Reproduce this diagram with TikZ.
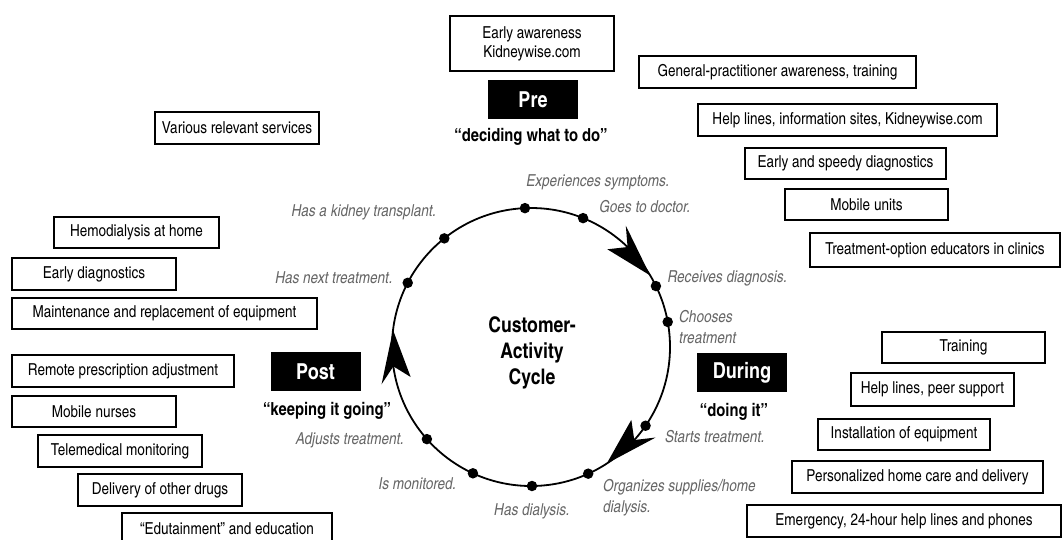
\documentclass[tikz,border=0pt]{standalone}
\usepackage{fontspec}
\setmainfont{texgyreheroscn}[Extension=.otf, UprightFont=*-regular, BoldFont=*-bold, ItalicFont=*-italic, BoldItalicFont=*-bolditalic]
\begin{document}
\begin{tikzpicture}[x=1pt,y=1pt,
  bx/.style 2 args={draw, line width=1.2pt, inner sep=0pt, align=center,
    minimum width=#1, minimum height=#2, font=\fontsize{16.5}{19}\selectfont},
  phase/.style={fill=black, text=white, inner sep=0pt, minimum width=90, minimum height=39,
    font=\bfseries\fontsize{22}{26}\selectfont},
  quote/.style={inner sep=0pt, font=\bfseries\fontsize{18}{21}\selectfont},
  lab/.style={inner sep=0pt, text=black!60, font=\itshape\fontsize{16.5}{21}\selectfont},
  dot/.style={circle, fill=black, inner sep=0pt, minimum size=10.5}]
\useasboundingbox (0,0) rectangle (1062,-539);

% Pre
\node[bx={164}{55}] (early) at (532,-43.5) {Early awareness\\Kidneywise.com};
\node[phase] (pre) at (533,-99.5) {Pre};
\node[quote] (preq) at (531,-137) {“deciding what to do”};
\node[bx={277}{32}] (gp) at (777.5,-72) {General-practitioner awareness, training};
\node[bx={299}{32}] (help) at (847.5,-120) {Help lines, information sites, Kidneywise.com};
\node[bx={201}{31}] (speedy) at (845.5,-163.5) {Early and speedy diagnostics};
\node[bx={163}{31}] (mobile) at (866.5,-204.5) {Mobile units};
\node[bx={250}{34}] (educ) at (935,-250) {Treatment-option educators in clinics};

% Post
\node[bx={164}{32}] (various) at (237,-128) {Various relevant services};
\node[bx={165}{31}] (hemo) at (136.5,-232.5) {Hemodialysis at home};
\node[bx={164}{32}] (ediag) at (94,-274) {Early diagnostics};
\node[bx={305}{31}] (maint) at (164.5,-313.5) {Maintenance and replacement of equipment};
\node[bx={222}{32}] (remote) at (123,-371) {Remote prescription adjustment};
\node[bx={164}{31}] (nurses) at (94,-411.5) {Mobile nurses};
\node[bx={164}{32}] (tele) at (120,-451) {Telemedical monitoring};
\node[bx={164}{32}] (drugs) at (160,-490) {Delivery of other drugs};
\node[bx={210}{32}] (edu) at (227,-529) {“Edutainment” and education};
\node[phase] (post) at (315.5,-371.5) {Post};
\node[quote] (postq) at (327,-411) {“keeping it going”};

% During
\node[bx={163}{31}] (training) at (963.5,-347.5) {Training};
\node[bx={163}{33}] (peer) at (932.5,-389.5) {Help lines, peer support};
\node[bx={172}{31}] (install) at (904,-434.5) {Installation of equipment};
\node[bx={251}{32}] (personal) at (917.5,-477) {Personalized home care and delivery};
\node[bx={314}{32}] (emerg) at (904,-521) {Emergency, 24-hour help lines and phones};
\node[phase] (during) at (742,-372.5) {During};
\node[quote] (duringq) at (734,-412) {“doing it”};

% Cycle
\node[align=center, inner sep=0pt, font=\bfseries\fontsize{21.5}{26}\selectfont] (title) at (532,-353) {Customer-\\Activity\\Cycle};
\begin{scope}[shift={(531,-347)}]
  \draw[line width=1.8pt] (0,0) circle[radius=139];
  \foreach \t in {31,-57,173}
    \fill (\t:139) -- (\t+21:154) -- (\t+15:139) -- (\t+21:124) -- cycle;
  \foreach \a/\n in {92.5/d1,68/d2,26/d3,10.4/d4,-34.5/d5,-65.7/d6,-89.6/d7,245.3/d8,221.5/d9,152.5/d10,128.6/d11}
    \node[dot] (\n) at (\a:139) {};
\end{scope}

% Activity labels
\node[lab] (l1) at (598,-182) {Experiences symptoms.};
\node[lab] (l2) at (645,-207) {Goes to doctor.};
\node[lab] (l3) at (727.5,-278) {Receives diagnosis.};
\node[lab, anchor=west, align=left] (l4) at (679,-327) {Chooses\\treatment};
\node[lab] (l5) at (715,-437) {Starts treatment.};
\node[lab, anchor=west, align=left] (l6) at (603,-497.5) {Organizes supplies/home\\dialysis.};
\node[lab] (l7) at (532,-511) {Has dialysis.};
\node[lab] (l8) at (417.5,-484) {Is monitored.};
\node[lab] (l9) at (350,-440) {Adjusts treatment.};
\node[lab] (l10) at (334,-278) {Has next treatment.};
\node[lab] (l11) at (364,-212) {Has a kidney transplant.};
\end{tikzpicture}
\end{document}
